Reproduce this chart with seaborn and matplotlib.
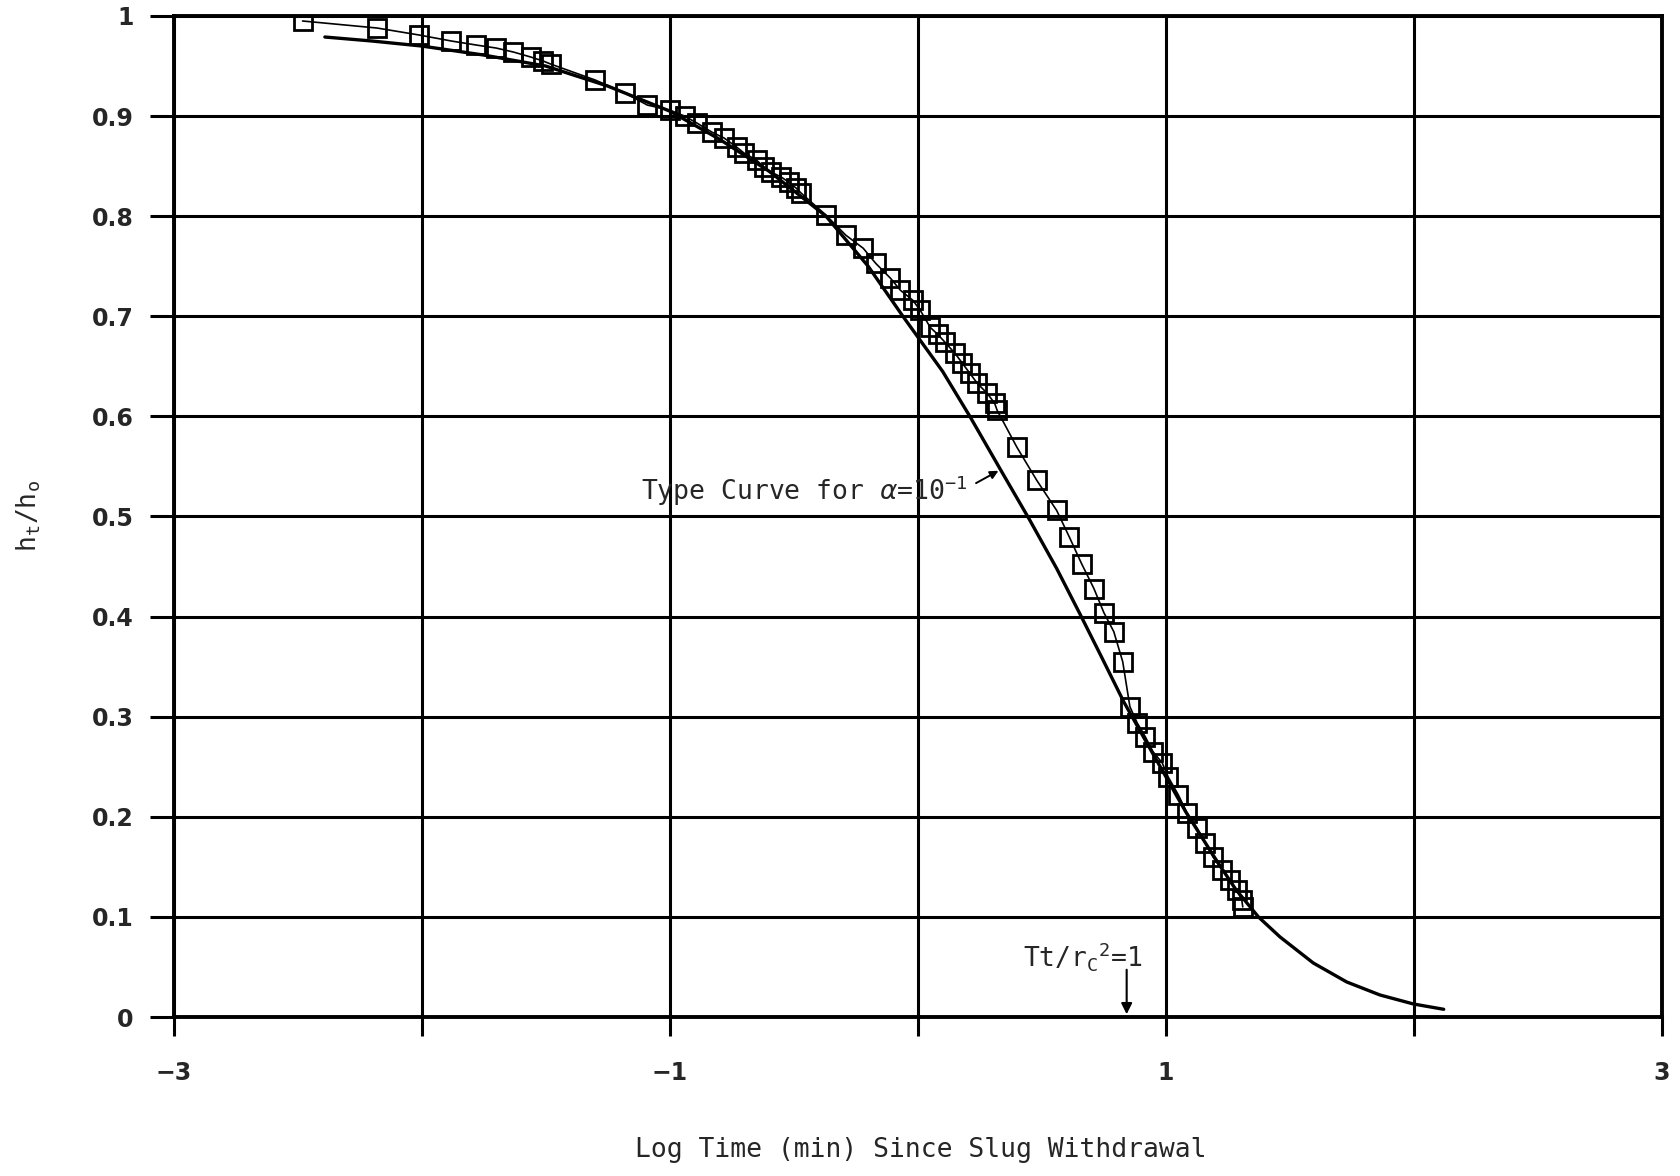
import numpy as np
import pandas as pd
import matplotlib
matplotlib.use("Agg")
import matplotlib.pyplot as plt
import seaborn as sns

## Slug test data (log time in min vs normalised head h_t/h_o)
log_time = [-2.48, -2.18, -2.01, -1.88, -1.78, -1.70, -1.63, -1.56, -1.51, -1.48,
            -1.30, -1.18, -1.09, -1.00, -0.94, -0.89, -0.83, -0.78, -0.73, -0.70,
            -0.65, -0.62, -0.59, -0.55, -0.52, -0.49, -0.47, -0.37, -0.29, -0.22,
            -0.17, -0.11, -0.07, -0.02, 0.01, 0.05, 0.08, 0.11, 0.15, 0.18,
            0.21, 0.24, 0.28, 0.31, 0.32, 0.40, 0.48, 0.56, 0.61, 0.66,
            0.71, 0.75, 0.79, 0.826, 0.855, 0.884, 0.917, 0.948, 0.985, 1.009,
            1.05, 1.085, 1.125, 1.158, 1.19, 1.226, 1.258, 1.286, 1.306, 1.31]
head_ratio = [0.995, 0.988, 0.981, 0.975, 0.971, 0.968, 0.964, 0.959, 0.955, 0.952,
              0.936, 0.923, 0.911, 0.906, 0.900, 0.893, 0.884, 0.878, 0.869, 0.863,
              0.856, 0.849, 0.844, 0.839, 0.834, 0.828, 0.823, 0.801, 0.781, 0.768,
              0.753, 0.738, 0.726, 0.716, 0.706, 0.689, 0.682, 0.674, 0.663, 0.653,
              0.643, 0.633, 0.623, 0.613, 0.606, 0.569, 0.536, 0.506, 0.480, 0.453,
              0.428, 0.404, 0.385, 0.355, 0.310, 0.294, 0.280, 0.265, 0.254, 0.240,
              0.222, 0.204, 0.189, 0.174, 0.160, 0.147, 0.137, 0.127, 0.117, 0.110]

## Type curve for alpha = 10^-1
curve_x = [-2.39, -2.2, -2.0, -1.75, -1.5, -1.25, -1.0, -0.8, -0.6, -0.37,
           -0.2, -0.06, 0.1, 0.21, 0.34, 0.45, 0.56, 0.655, 0.74, 0.83,
           0.95, 1.08, 1.2, 1.28, 1.373, 1.46, 1.594, 1.729, 1.863, 1.998, 2.12]
curve_y = [0.979, 0.975, 0.970, 0.961, 0.950, 0.930, 0.905, 0.877, 0.845, 0.800,
           0.750, 0.700, 0.645, 0.600, 0.544, 0.497, 0.448, 0.402, 0.360, 0.315,
           0.262, 0.205, 0.158, 0.128, 0.100, 0.080, 0.054, 0.035, 0.022, 0.013, 0.0077]

x_ticks = [-3, -2, -1, 0, 1, 2, 3]
x_ticklabels = ['\u22123', '', '\u22121', '', '1', '', '3']
y_ticks = [0, 0.1, 0.2, 0.3, 0.4, 0.5, 0.6, 0.7, 0.8, 0.9, 1]
y_ticklabels = ['0', '0.1', '0.2', '0.3', '0.4', '0.5', '0.6', '0.7', '0.8', '0.9', '1']

data = pd.DataFrame({'log_time': log_time, 'head_ratio': head_ratio})
curve = pd.DataFrame({'x': curve_x, 'y': curve_y})

sns.set_style('white')
plt.rcParams['mathtext.fontset'] = 'custom'
plt.rcParams['mathtext.rm'] = 'DejaVu Sans Mono'
mono = 'DejaVu Sans Mono'

fig = plt.figure(figsize=(16.8, 11.76), dpi=100)
ax = fig.add_axes([0.1033, 0.1352, 0.886, 0.8512])

## type curve (thick line)
sns.lineplot(data=curve, x='x', y='y', sort=False, estimator=None,
             color='black', lw=2.4, ax=ax, zorder=3)

## measured data, open squares joined by a thin line
sns.lineplot(data=data, x='log_time', y='head_ratio', sort=False, estimator=None,
             color='black', lw=1.2, marker='s', markersize=13,
             markerfacecolor='none', markeredgecolor='black', markeredgewidth=2.0,
             ax=ax, zorder=4)

ax.set_xlim(-3, 3)
ax.set_ylim(0, 1)
ax.set_xticks(x_ticks)
ax.set_xticklabels(x_ticklabels, fontsize=17, fontweight='bold')
ax.set_yticks(y_ticks)
ax.set_yticklabels(y_ticklabels, fontsize=17, fontweight='bold')
ax.tick_params(axis='x', bottom=True, direction='out', length=14, width=2.2,
               pad=18, color='black')
ax.tick_params(axis='y', left=True, direction='out', length=17, width=2.2,
               pad=12, color='black')
ax.grid(True, color='black', lw=2.2)
ax.set_axisbelow(True)
for s in ax.spines.values():
    s.set_color('black')
    s.set_linewidth(2.8)

ax.set_xlabel('Log Time (min) Since Slug Withdrawal', fontsize=19, family=mono)
ax.xaxis.set_label_coords(0.502, -0.12)
ax.set_ylabel(r'h$_{\mathregular{t}}$/h$_{\mathregular{o}}$', fontsize=19, family=mono)
ax.yaxis.set_label_coords(-0.088, 0.5)

## annotations
ax.text(-1.115, 0.526, r'Type Curve for $\alpha$=10$^{\mathregular{-1}}$',
        fontsize=19, family=mono, ha='left', va='center', zorder=5)
ax.annotate('', xy=(0.335, 0.547), xytext=(0.225, 0.532),
            arrowprops=dict(arrowstyle='-|>', color='black', lw=1.4,
                            mutation_scale=12))
ax.text(0.424, 0.060, r'Tt/r$_{\mathregular{C}}$$^{\mathregular{2}}$=1',
        fontsize=19, family=mono, ha='left', va='center', zorder=5)
ax.annotate('', xy=(0.842, 0.0), xytext=(0.842, 0.05),
            arrowprops=dict(arrowstyle='-|>', color='black', lw=1.5,
                            mutation_scale=16))

plt.savefig('out.png', dpi=100)
